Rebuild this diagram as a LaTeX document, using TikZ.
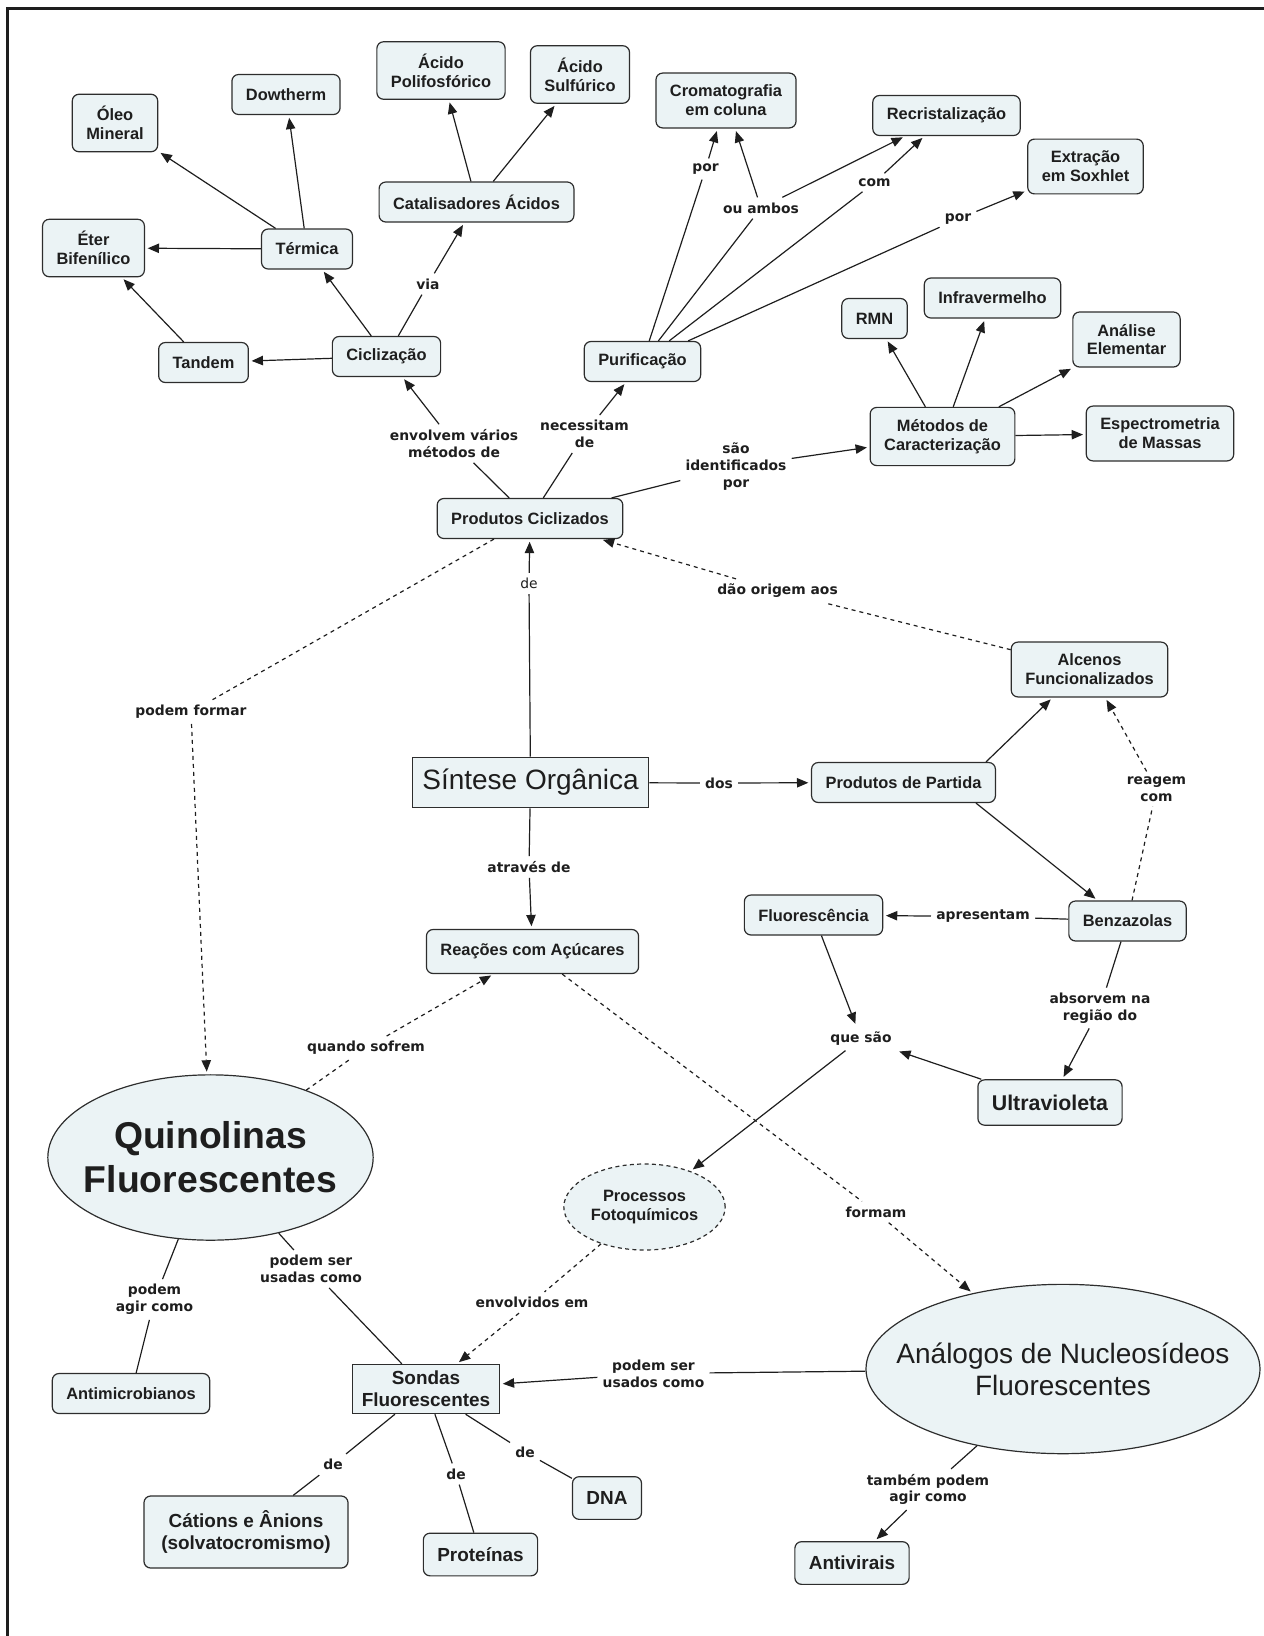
\documentclass[tikz,border=0pt]{standalone}
\usepackage{fontspec}
\setmainfont{Liberation Sans}
\newfontfamily\lblfamily{DejaVu Sans}
\usetikzlibrary{arrows.meta,shapes.geometric}
\definecolor{ink}{RGB}{30,30,30}
\definecolor{edge}{RGB}{45,45,45}
\definecolor{conc}{RGB}{235,243,245}
\newcommand{\cmapfont}{\bfseries\fontsize{12.3}{14.1}\selectfont}
\newcommand{\bigfont}{\bfseries\fontsize{14.2}{16.5}\selectfont}
\newcommand{\linkfont}{\lblfamily\bfseries\fontsize{10.4}{12.5}\selectfont}
\newcommand{\thinlink}{\lblfamily\fontsize{10.4}{12.5}\selectfont}
\tikzset{
  every picture/.style={color=ink, line width=0.9pt},
  box/.style={draw=edge, fill=conc, rounded corners=5pt, line width=0.9pt, font=\cmapfont, align=center, inner xsep=10.5pt, inner ysep=9pt, minimum height=30pt},
  bigbox/.style={box, font=\bigfont, minimum height=32pt},
  flat/.style={box, rounded corners=0pt},
  oval/.style={draw=edge, fill=conc, ellipse, line width=0.9pt, align=center, inner sep=0pt},
  lbl/.style={font=\linkfont, align=center, inner sep=3.5pt},
  ln/.style={draw=ink, line width=0.9pt},
  arr/.style={ln, -{Triangle[length=8.5pt,width=7pt]}, shorten >=2pt},
  dln/.style={ln, dash pattern=on 3pt off 3pt},
  darr/.style={arr, dash pattern=on 3pt off 3pt},
}
\begin{document}
\begin{tikzpicture}[x=0.75pt,y=-0.75pt]
  \useasboundingbox (0,0) rectangle (1264,1636);
  \draw[line width=1.6pt] (7.5,1636) -- (7.5,8.5) -- (1264,8.5);

  % concepts
  \node[box] (oleo) at (115,123) {Óleo\\Mineral};
  \node[box] (dowtherm) at (286,94.5) {Dowtherm};
  \node[box] (polif) at (441,70.5) {Ácido\\Polifosfórico};
  \node[box] (sulf) at (580,74.5) {Ácido\\Sulfúrico};
  \node[box] (catal) at (476.5,202) {Catalisadores Ácidos};
  \node[box] (eter) at (93.5,248) {Éter\\Bifenílico};
  \node[box] (termica) at (307,249) {Térmica};
  \node[box] (tandem) at (203.5,362.5) {Tandem};
  \node[box] (cicl) at (386.5,356.5) {Ciclização};
  \node[box] (croma) at (726,100.5) {Cromatografia\\em coluna};
  \node[box] (recri) at (946.5,115.5) {Recristalização};
  \node[box] (soxhlet) at (1085.5,166.5) {Extração\\em Soxhlet};
  \node[box] (purif) at (642.5,361.5) {Purificação};
  \node[box] (rmn) at (874.5,318.5) {RMN};
  \node[box] (infra) at (992.5,298) {Infravermelho};
  \node[box] (elem) at (1126.5,339.5) {Análise\\Elementar};
  \node[box] (metodos) at (942.5,436.5) {Métodos de\\Caracterização};
  \node[box] (espectro) at (1160,433.5) {Espectrometria\\de Massas};
  \node[box] (prodcicl) at (530,518.5) {Produtos Ciclizados};
  \node[box] (alcenos) at (1089.5,669.5) {Alcenos\\Funcionalizados};
  \node[flat, font=\fontsize{21}{24}\selectfont, inner xsep=7.5pt, minimum height=34pt] (sintese) at (530.5,782.5) {Síntese Orgânica};
  \node[box] (partida) at (903.5,782.5) {Produtos de Partida};
  \node[box] (benz) at (1127.5,921) {Benzazolas};
  \node[box] (fluor) at (813.5,915) {Fluorescência};
  \node[box, minimum height=33pt] (reacoes) at (532.5,951.5) {Reações com Açúcares};
  \node[bigbox, font=\bfseries\fontsize{16}{18}\selectfont, minimum height=34pt] (uv) at (1050,1102.5) {Ultravioleta};
  \node[oval, font=\bfseries\fontsize{28}{33}\selectfont, inner xsep=-9pt, minimum width=244pt, minimum height=124pt] (quin) at (210.5,1157.5) {Quinolinas\\Fluorescentes};
  \node[oval, dashed, dash pattern=on 3pt off 2.5pt, font=\cmapfont, minimum width=121pt, minimum height=64.5pt] (foto) at (644.5,1207) {Processos\\Fotoquímicos};
  \node[oval, font=\fontsize{21}{24}\selectfont, inner xsep=-22pt, minimum width=295.5pt, minimum height=127pt] (analogos) at (1063,1369) {Análogos de Nucleosídeos\\Fluorescentes};
  \node[flat, font=\bigfont, inner xsep=7pt, inner ysep=5pt] (sondas) at (426,1389) {Sondas\\Fluorescentes};
  \node[box] (antimic) at (131,1393.5) {Antimicrobianos};
  \node[bigbox, inner xsep=13pt, minimum height=54pt] (cations) at (246,1532) {Cátions e Ânions\\(solvatocromismo)};
  \node[bigbox] (prot) at (480.5,1554.5) {Proteínas};
  \node[bigbox] (dna) at (607,1498) {DNA};
  \node[bigbox] (antiv) at (852,1563) {Antivirais};

  % linking phrases
  \node[lbl] (via) at (428,284) {via};
  \node[lbl] (envolvem) at (454,443.5) {envolvem vários\\métodos de};
  \node[lbl] (necessitam) at (584.5,434) {necessitam\\de};
  \node[lbl] (por1) at (705.5,169) {por};
  \node[lbl] (ambos) at (761,208) {ou ambos};
  \node[lbl] (com) at (874.5,182.5) {com};
  \node[lbl] (por2) at (958,219) {por};
  \node[lbl] (identif) at (736,466.5) {são\\identificados\\por};
  \node[lbl, font=\thinlink] (de0) at (529,583.5) {de};
  \node[lbl] (origem) at (777.5,591) {dão origem aos};
  \node[lbl] (formar) at (191,712) {podem formar};
  \node[lbl] (dos) at (719,783) {dos};
  \node[lbl] (reagem) at (1156.5,789) {reagem\\com};
  \node[lbl] (atraves) at (529,867) {através de};
  \node[lbl] (apresentam) at (983,916.5) {apresentam};
  \node[lbl] (absorvem) at (1100,1008) {absorvem na\\região do};
  \node[lbl] (quesao) at (861,1038.5) {que são};
  \node[lbl] (sofrem) at (366,1048) {quando sofrem};
  \node[lbl] (formam) at (876,1212) {formam};
  \node[lbl] (usadas) at (311,1269) {podem ser\\usadas como};
  \node[lbl] (agir) at (154.5,1299.5) {podem\\agir como};
  \node[lbl] (envolvidos) at (532,1302.5) {envolvidos em};
  \node[lbl] (usados) at (653.5,1373.5) {podem ser\\usados como};
  \node[lbl] (tambem) at (928,1489.5) {também podem\\agir como};
  \node[lbl] (de1) at (333,1464.5) {de};
  \node[lbl] (de2) at (456,1474) {de};
  \node[lbl] (de3) at (525,1452) {de};

  % connectors
  \draw[arr] (cicl) -- (termica);
  \draw[arr] (cicl) -- (tandem);
  \draw[ln] (cicl) -- (via); \draw[arr] (via) -- (catal);
  \foreach \n in {oleo,dowtherm,eter} { \draw[arr] (termica) -- (\n); }
  \draw[arr] (tandem) -- (eter);
  \draw[arr] (catal) -- (polif); \draw[arr] (catal) -- (sulf);
  \draw[ln] (prodcicl) -- (envolvem); \draw[arr] (envolvem) -- (cicl);
  \draw[ln] (prodcicl) -- (necessitam); \draw[arr] (necessitam) -- (purif);
  \draw[ln] (prodcicl) -- (identif); \draw[arr] (identif) -- (metodos);
  \draw[ln] (purif) -- (por1); \draw[arr] (por1) -- (croma);
  \draw[ln] (purif) -- (ambos); \draw[arr] (ambos) -- (croma); \draw[arr] (ambos) -- (recri);
  \draw[ln] (purif) -- (com); \draw[arr] (com) -- (recri);
  \draw[ln] (purif) -- (por2); \draw[arr] (por2) -- (soxhlet);
  \foreach \n in {rmn,infra,elem,espectro} { \draw[arr] (metodos) -- (\n); }
  \draw[ln] (sintese) -- (de0); \draw[arr] (de0) -- (prodcicl);
  \draw[ln] (sintese) -- (dos); \draw[arr] (dos) -- (partida);
  \draw[ln] (sintese) -- (atraves); \draw[arr] (atraves) -- (reacoes);
  \draw[dln] (alcenos) -- (origem); \draw[darr] (origem) -- (prodcicl);
  \draw[dln] (prodcicl) -- (formar); \draw[darr] (formar) -- (quin);
  \draw[arr] ([xshift=-7.5pt]partida.north east) -- ([xshift=31.5pt]alcenos.south west);
  \draw[arr] ([xshift=-15pt]partida.south east) -- ([xshift=22pt]benz.north west);
  \draw[dln] (benz) -- (reagem); \draw[darr] (reagem) -- (alcenos);
  \draw[ln] (benz) -- (apresentam); \draw[arr] (apresentam) -- (fluor);
  \draw[ln] (benz) -- (absorvem); \draw[arr] (absorvem) -- (uv);
  \draw[arr] (fluor) -- (quesao); \draw[arr] (uv) -- (quesao);
  \draw[arr] (quesao) -- (foto);
  \draw[dln] (quin) -- (sofrem); \draw[darr] (sofrem) -- (reacoes);
  \draw[dln] (reacoes) -- (formam); \draw[darr] (formam) -- (analogos);
  \draw[dln] (foto) -- (envolvidos); \draw[darr] (envolvidos) -- (sondas);
  \draw[ln] (analogos) -- (usados); \draw[arr] (usados) -- (sondas);
  \draw[ln] (analogos) -- (tambem); \draw[arr] (tambem) -- (antiv);
  \draw[ln] (quin) -- (usadas) (usadas) -- (sondas);
  \draw[ln] (quin) -- (agir) (agir) -- (antimic);
  \draw[ln] (sondas) -- (de1) (de1) -- (cations);
  \draw[ln] (sondas) -- (de2) (de2) -- (prot);
  \draw[ln] (sondas) -- (de3) (de3) -- (dna);
\end{tikzpicture}
\end{document}
